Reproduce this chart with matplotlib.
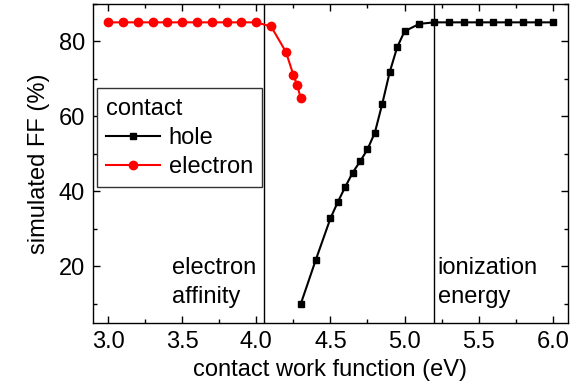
import matplotlib
matplotlib.use("Agg")
import matplotlib.pyplot as plt
from matplotlib.ticker import MultipleLocator

plt.rcParams['font.family'] = ['Liberation Sans', 'DejaVu Sans']
plt.rcParams['font.size'] = 17

# contact work function (eV) and simulated fill factor (%)
hole_wf = [4.3, 4.4, 4.5, 4.55, 4.6, 4.65, 4.7, 4.75, 4.8, 4.85, 4.9, 4.95, 5.0, 5.1,
           5.2, 5.3, 5.4, 5.5, 5.6, 5.7, 5.8, 5.9, 6.0]
hole_ff = [10.0, 21.6, 32.8, 37.2, 41.2, 45.0, 48.0, 51.2, 55.7, 63.4, 71.8, 78.4, 82.7, 84.7,
           85.1, 85.1, 85.1, 85.1, 85.1, 85.1, 85.1, 85.1, 85.1]
elec_wf = [3.0, 3.1, 3.2, 3.3, 3.4, 3.5, 3.6, 3.7, 3.8, 3.9, 4.0,
           4.1, 4.2, 4.25, 4.275, 4.3]
elec_ff = [85.1, 85.1, 85.1, 85.1, 85.1, 85.1, 85.1, 85.1, 85.1, 85.1, 85.1,
           84.0, 77.2, 71.1, 68.4, 64.9]

electron_affinity = 4.05
ionization_energy = 5.2

fig = plt.figure(figsize=(5.71, 3.90), dpi=100)
ax = fig.add_axes([0.1634, 0.1726, 0.8305, 0.8172])

ax.axvline(electron_affinity, color='black', lw=1.0, zorder=1)
ax.axvline(ionization_energy, color='black', lw=1.0, zorder=1)

ax.plot(hole_wf, hole_ff, color='black', lw=1.5, marker='s', ms=5, label='hole', zorder=3)
ax.plot(elec_wf, elec_ff, color='red', lw=1.5, marker='o', ms=6, label='electron', zorder=3)

ax.text(3.43, 9.0, 'electron\naffinity', ha='left', va='bottom',
        multialignment='left', linespacing=1.4)
ax.text(ionization_energy + 0.025, 9.0, 'ionization\nenergy', ha='left', va='bottom',
        multialignment='left', linespacing=1.4)

ax.set_xlim(2.9, 6.1)
ax.set_ylim(5, 90)
ax.xaxis.set_major_locator(MultipleLocator(0.5))
ax.xaxis.set_minor_locator(MultipleLocator(0.25))
ax.yaxis.set_major_locator(MultipleLocator(20))
ax.yaxis.set_minor_locator(MultipleLocator(10))
ax.xaxis.set_major_formatter(matplotlib.ticker.FormatStrFormatter('%.1f'))
ax.tick_params(which='both', direction='in', top=True, right=True, width=1.0)
ax.tick_params(which='major', length=5, pad=6)
ax.tick_params(which='minor', length=3)
for s in ax.spines.values():
    s.set_linewidth(1.0)

ax.set_xlabel('contact work function (eV)', labelpad=4)
ax.set_ylabel('simulated FF (%)', labelpad=6)

leg = ax.legend(title='contact', loc='upper left', bbox_to_anchor=(0.007, 0.7355),
                borderaxespad=0, numpoints=1, handlelength=2.3, handletextpad=0.35,
                labelspacing=0.3, borderpad=0.4, fancybox=False, framealpha=1,
                edgecolor='#333333', alignment='left', title_fontsize=17)
leg.get_frame().set_linewidth(1.0)

fig.savefig('out.png', dpi=100)
